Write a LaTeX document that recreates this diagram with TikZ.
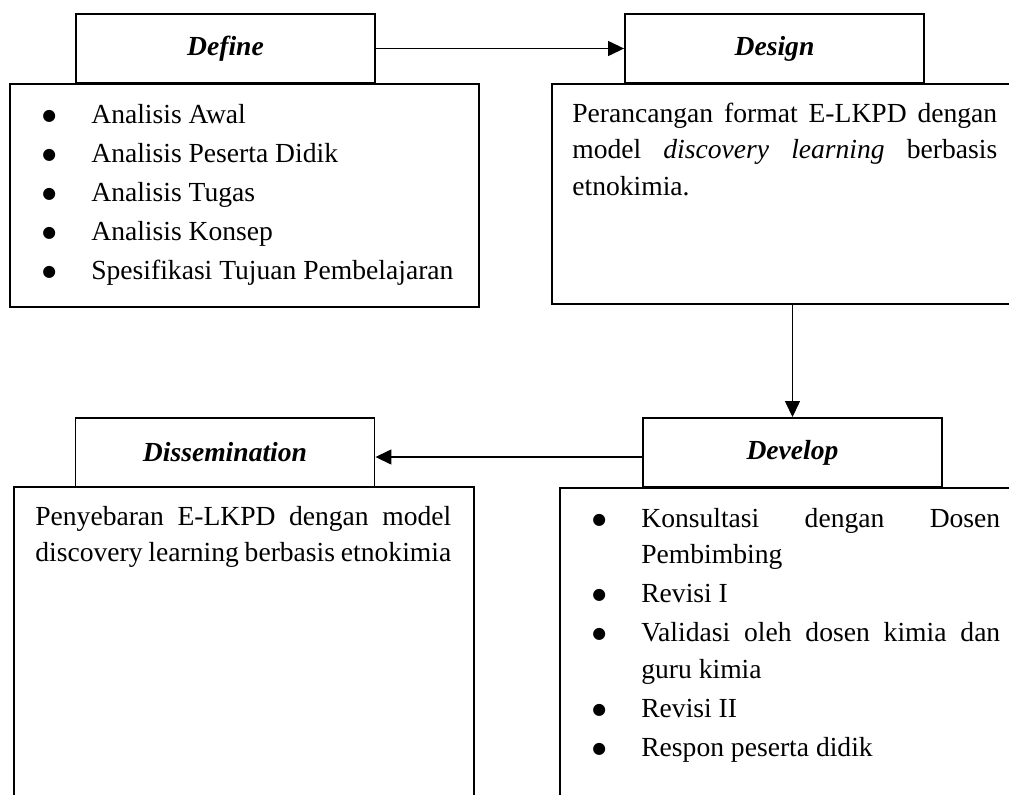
\documentclass[tikz,border=0pt]{standalone}
\usepackage{fontspec}
\setmainfont{Liberation Serif}
\newfontfamily\bulletfont{DejaVu Sans}
\usetikzlibrary{arrows.meta}

\newcommand{\stagefont}{\fontsize{15.7}{20.8}\selectfont\setlength{\parskip}{0.05cm}}
\newcommand{\bulletitem}[1]{\hangindent=0.98cm\hangafter=1\noindent
  \makebox[0.98cm][l]{\raisebox{0.06cm}{\bulletfont\fontsize{9}{9}\selectfont ●}}#1\par}

\begin{document}
\begin{tikzpicture}[x=0.02cm, y=-0.02cm,
  titlebox/.style={draw, line width=1.1pt, minimum width=5.98cm, minimum height=1.38cm,
    inner sep=0pt, font=\stagefont\bfseries\itshape},
  bodybox/.style={draw, line width=1.1pt, anchor=north west, inner sep=0pt},
  bodytext/.style={anchor=base west, inner sep=0pt, font=\stagefont, align=justify},
  flow/.style={-{Triangle[length=0.32cm, width=0.3cm]}, line width=0.8pt}]
\useasboundingbox (0,0) rectangle (1009,795);
\clip (0,0) rectangle (1009,795);

% body boxes
\node[bodybox, minimum width=9.38cm, minimum height=4.46cm] (defineBody) at (9,83) {};
\node[bodybox, minimum width=9.38cm, minimum height=4.4cm] (designBody) at (551,83) {};
\node[bodybox, minimum width=9.22cm, minimum height=6.8cm] (developBody) at (559,487) {};
\node[bodybox, minimum width=9.2cm, minimum height=6.8cm] (dissemBody) at (13,486) {};

% title boxes
\node[titlebox] (defineT) at (225.5,48.5) {Define};
\node[titlebox] (designT) at (774.5,48.5) {Design};
\node[titlebox] (developT) at (792.5,452.5) {Develop};
\node[titlebox] (dissemT) at (225,452.5) {Dissemination};

% texts
\node[bodytext, text width=8.56cm] (defineText) at (42,123) {%
  \bulletitem{Analisis Awal}
  \bulletitem{Analisis Peserta Didik}
  \bulletitem{Analisis Tugas}
  \bulletitem{Analisis Konsep}
  \bulletitem{Spesifikasi Tujuan Pembelajaran}};
\node[bodytext, text width=8.5cm] (designText) at (572,122) {%
  Perancangan format E-LKPD dengan\linebreak
  model \textit{discovery learning} berbasis\linebreak
  etnokimia.};
\node[bodytext, text width=8.16cm] (developText) at (592,527) {%
  \bulletitem{Konsultasi dengan Dosen\linebreak Pembimbing}
  \bulletitem{Revisi I}
  \bulletitem{Validasi oleh dosen kimia dan\linebreak guru kimia}
  \bulletitem{Revisi II}
  \bulletitem{Respon peserta didik}};
\node[bodytext, text width=8.32cm] (dissemText) at (35,525) {%
  Penyebaran E-LKPD dengan model\linebreak
  discovery learning berbasis etnokimia};

% arrows
\draw[flow] (defineT) -- (designT);
\draw[flow] (designBody.south -| developT.north) -- (developT.north);
\draw[flow] ([yshift=-0.09cm]developT.west) -- ([yshift=-0.09cm]dissemT.east);
\end{tikzpicture}
\end{document}
